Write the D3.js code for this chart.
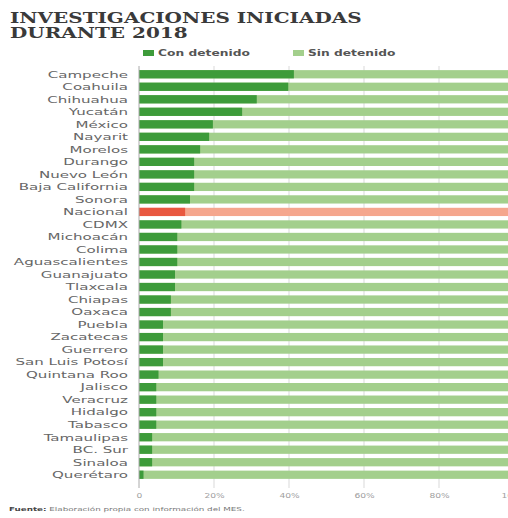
<!DOCTYPE html>
<html>
<head>
<meta charset="utf-8">
<script src="https://cdn.jsdelivr.net/npm/d3@7"></script>
<style>
  body { margin: 0; background: #fff; }
  svg { display: block; }
  .title { font-family: 'DejaVu Serif', serif; font-weight: bold; font-size: 15.5px; fill: #3a3a3a; }
  .legend text { font-family: 'DejaVu Sans', sans-serif; font-weight: bold; font-size: 9px; fill: #555; }
  .state { font-family: 'DejaVu Sans', sans-serif; font-size: 9.4px; fill: #666; }
  .tick text { font-family: 'DejaVu Sans', sans-serif; font-size: 7px; fill: #a0a0a0; }
  .source { font-family: 'DejaVu Sans', sans-serif; font-size: 5.4px; fill: #777; }
</style>
</head>
<body>
<svg id="chart" width="508" height="518"></svg>
<script>
// data
const states = ['Campeche', 'Coahuila', 'Chihuahua', 'Yucatán', 'México', 'Nayarit', 'Morelos',
  'Durango', 'Nuevo León', 'Baja California', 'Sonora', 'Nacional', 'CDMX', 'Michoacán', 'Colima',
  'Aguascalientes', 'Guanajuato', 'Tlaxcala', 'Chiapas', 'Oaxaca', 'Puebla', 'Zacatecas', 'Guerrero',
  'San Luis Potosí', 'Quintana Roo', 'Jalisco', 'Veracruz', 'Hidalgo', 'Tabasco', 'Tamaulipas',
  'BC. Sur', 'Sinaloa', 'Querétaro']
const conDetenido = [41.3, 39.8, 31.4, 27.5, 19.7, 18.7, 16.3,
  14.7, 14.7, 14.7, 13.6, 12.3, 11.3, 10.2, 10.2,
  10.2, 9.6, 9.6, 8.5, 8.5, 6.4, 6.4, 6.4,
  6.4, 5.2, 4.6, 4.6, 4.6, 4.6, 3.5,
  3.5, 3.5, 1.2]
const xTicks = [0, 20, 40, 60, 80, 100]
const tickLabels = ['0', '20%', '40%', '60%', '80%', '100%']
const legendItems = ['Con detenido', 'Sin detenido']

const colors = {con: '#3d9b3a', sin: '#a3cf8c', conNac: '#e9573f', sinNac: '#f5a68d'}

const svg = d3.select('#chart')

// the print font is an extended one: stretch text sideways to match its width
function stretch(sel, anchorX, factor) {
  sel.each(function() {
    const t = d3.select(this)
    const yy = +t.attr('y') || 0
    t.attr('transform', `translate(${anchorX},${yy}) scale(${factor},1) translate(${-anchorX},${-yy})`)
  })
}

// scales
const x = d3.scaleLinear().domain([0, 100]).range([139, 514])
const y = d3.scaleBand().domain(states).range([68, 481]).paddingInner(0.34).paddingOuter(0.17)

// title
const t1 = svg.append('text').attr('class', 'title').attr('x', 10).attr('y', 23).text('INVESTIGACIONES INICIADAS')
const t2 = svg.append('text').attr('class', 'title').attr('x', 10).attr('y', 38.5).text('DURANTE 2018')
const titleK = 352 / t1.node().getComputedTextLength()
stretch(t1, 10, titleK)
stretch(t2, 10, titleK)

// legend
const legend = svg.append('g').attr('class', 'legend')
const legendX = [143, 293]
legendItems.forEach((name, i) => {
  legend.append('rect').attr('x', legendX[i]).attr('y', 50).attr('width', 11).attr('height', 6)
    .attr('fill', i === 0 ? colors.con : colors.sin)
})
const legendText = legend.selectAll('text').data(legendItems).join('text')
  .attr('x', (d, i) => legendX[i] + 15).attr('y', 56.5).text(d => d)
const legendK = 92 / legendText.node().getComputedTextLength()
legendText.each(function(d, i) { stretch(d3.select(this), legendX[i] + 15, legendK) })

// gridlines
svg.append('g').selectAll('line').data(xTicks.slice(1)).join('line')
  .attr('x1', d => x(d)).attr('x2', d => x(d))
  .attr('y1', 66).attr('y2', 488)
  .attr('stroke', '#d9d9d9').attr('stroke-width', 1)

// bars
const rows = svg.append('g').selectAll('g').data(states).join('g')
  .attr('transform', d => `translate(0,${y(d)})`)
rows.append('rect')
  .attr('x', x(0)).attr('width', x(100) - x(0)).attr('height', y.bandwidth())
  .attr('fill', d => d === 'Nacional' ? colors.sinNac : colors.sin)
rows.append('rect')
  .attr('x', x(0)).attr('width', (d, i) => x(conDetenido[i]) - x(0)).attr('height', y.bandwidth())
  .attr('fill', d => d === 'Nacional' ? colors.conNac : colors.con)
const labels = rows.append('text').attr('class', 'state')
  .attr('x', 128).attr('y', y.bandwidth() / 2 + 3.3)
  .attr('text-anchor', 'end').text(d => d)
const labelK = 109 / labels.filter(d => d === 'Baja California').node().getComputedTextLength()
stretch(labels, 128, labelK)

// axis
const axis = d3.axisBottom(x).tickValues(xTicks).tickFormat((d, i) => tickLabels[i]).tickSize(0).tickPadding(0)
const axisG = svg.append('g').attr('transform', 'translate(0,496)').call(axis)
axisG.select('.domain').remove()
axisG.selectAll('.tick text').attr('dy', '0.35em')
  .attr('transform', 'scale(1.3,1)')
svg.append('line').attr('x1', x(0)).attr('x2', x(0)).attr('y1', 66).attr('y2', 488)
  .attr('stroke', '#aaa').attr('stroke-width', 1)

// source
const src = svg.append('text').attr('class', 'source').attr('x', 9).attr('y', 511)
src.append('tspan').attr('font-weight', 'bold').attr('fill', '#444').text('Fuente:')
src.append('tspan').text(' Elaboración propia con información del MES.')
stretch(src, 9, 236 / src.node().getComputedTextLength())
</script>
</body>
</html>
